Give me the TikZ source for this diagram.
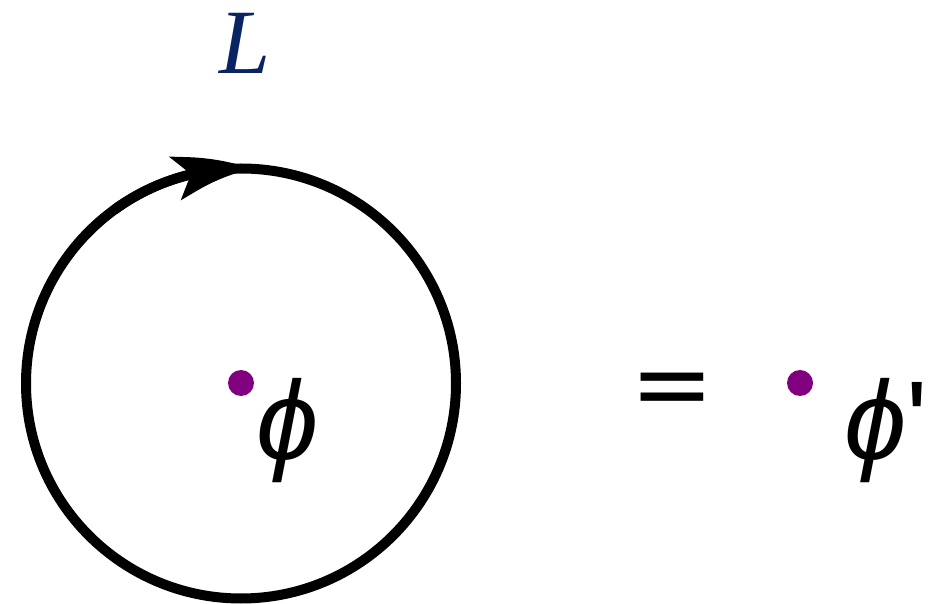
\documentclass[tikz,border=0pt]{standalone}
\usepackage{fontspec}
\usetikzlibrary{arrows.meta,calc,bending}
\newfontfamily\lfont{Liberation Serif}
\newfontfamily\sfont{Liberation Sans}
\newfontfamily\dfont{DejaVu Sans}
\definecolor{lblue}{HTML}{0A2463}
\definecolor{dotpurple}{HTML}{800080}
\begin{document}
\begin{tikzpicture}[x=1pt,y=1pt,
  dotstyle/.style={circle,fill=dotpurple,inner sep=0pt,minimum size=26pt},
  bigsym/.style={inner sep=0pt,font=\sfont\itshape\fontsize{112}{112}\selectfont},
  eqsym/.style={inner sep=0pt,font=\dfont\fontsize{100}{100}\selectfont},
  looparrow/.style={line width=10pt,-{Stealth[length=78pt,width=44pt,inset=16pt,bend]}}]
\useasboundingbox (0,0) rectangle (943,603);
\coordinate (c) at (241,219.5);
\draw[line width=10pt] (c) circle (215);
\draw[looparrow] ($(c)+(126:215)$) arc (126:87:215);
\node[inner sep=0pt,text=lblue,font=\lfont\itshape\fontsize{92}{92}\selectfont] (L) at (245,560) {L};
\node[dotstyle] (d1) at (241,220) {};
\node[bigsym] (p1) at (288,172) {ϕ};
\node[eqsym] (eq) at (672,207) {=};
\node[dotstyle] (d2) at (800,220) {};
\node[bigsym] (p2) at (886,172) {ϕ{\upshape\symbol{"27}}};
\end{tikzpicture}
\end{document}
